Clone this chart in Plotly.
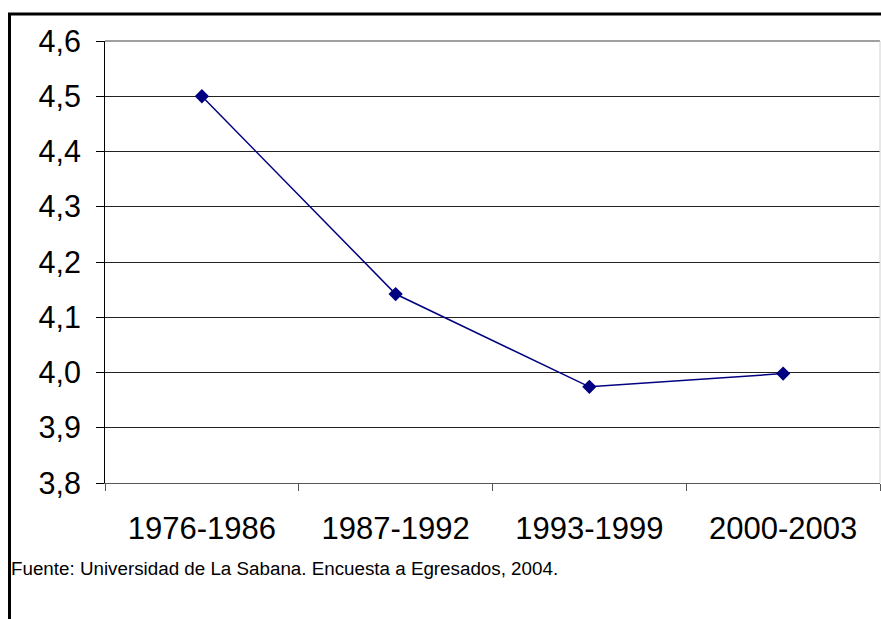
import plotly.graph_objects as go

categories = ["1976-1986", "1987-1992", "1993-1999", "2000-2003"]
values = [4.50, 4.142, 3.974, 3.998]
y_ticks = [3.8, 3.9, 4.0, 4.1, 4.2, 4.3, 4.4, 4.5, 4.6]
source_note = "Fuente: Universidad de La Sabana. Encuesta a Egresados, 2004."

W, H = 881, 619
L, R, T, B = 105, 1, 41, H - 483
pw, ph = W - L - R, H - T - B

def px_x(p):
    return (p - L) / pw

def px_y(p):
    return (H - B - p) / ph

fig = go.Figure()
fig.add_trace(go.Scatter(
    x=categories, y=values, mode="lines+markers",
    line=dict(color="#000080", width=1.5),
    marker=dict(symbol="diamond", size=11, color="#000080"),
    showlegend=False, hoverinfo="skip",
))

fig.update_layout(
    width=W, height=H,
    margin=dict(l=L, r=R, t=T, b=B, pad=0),
    paper_bgcolor="white", plot_bgcolor="white",
    separators=",.",
    font=dict(family="Liberation Sans, Arial, sans-serif", color="black"),
    xaxis=dict(
        type="category", range=[-0.5, 3.5], tickson="boundaries",
        ticks="outside", ticklen=7, tickcolor="#555555", tickwidth=1,
        showgrid=False, showline=True, linecolor="#555555", linewidth=1,
        tickfont=dict(size=31), zeroline=False, fixedrange=True,
        ticklabelstandoff=18,
    ),
    yaxis=dict(
        range=[3.8, 4.6], tickvals=y_ticks, tickformat=".1f",
        ticks="outside", ticklen=8, tickcolor="black", tickwidth=1,
        showgrid=True, gridcolor="#222222", gridwidth=1,
        showline=True, linecolor="black", linewidth=1,
        tickfont=dict(size=30.5), zeroline=False, fixedrange=True,
        ticklabelstandoff=9,
    ),
    shapes=[
        dict(type="line", xref="paper", yref="paper",
             x0=px_x(8), x1=px_x(W + 5), y0=px_y(14), y1=px_y(14),
             line=dict(color="black", width=3)),
        dict(type="line", xref="paper", yref="paper",
             x0=px_x(9.5), x1=px_x(9.5), y0=px_y(13), y1=px_y(H + 5),
             line=dict(color="black", width=3)),
        dict(type="line", xref="paper", yref="paper",
             x0=0, x1=1, y0=1, y1=1,
             line=dict(color="#808080", width=1.5)),
        dict(type="line", xref="paper", yref="paper",
             x0=1, x1=1, y0=0, y1=1,
             line=dict(color="#d0d0d0", width=1)),
    ],
    annotations=[
        dict(text=source_note, xref="paper", yref="paper",
             x=px_x(9), y=px_y(568), xanchor="left", yanchor="middle",
             showarrow=False, font=dict(size=18.8, color="black")),
    ],
)

fig.write_html(
    "out.html",
    config={"displayModeBar": False},
    post_script="document.body.style.margin='0';"
                "document.documentElement.style.overflow='hidden';"
                "document.body.style.overflow='hidden';",
)
